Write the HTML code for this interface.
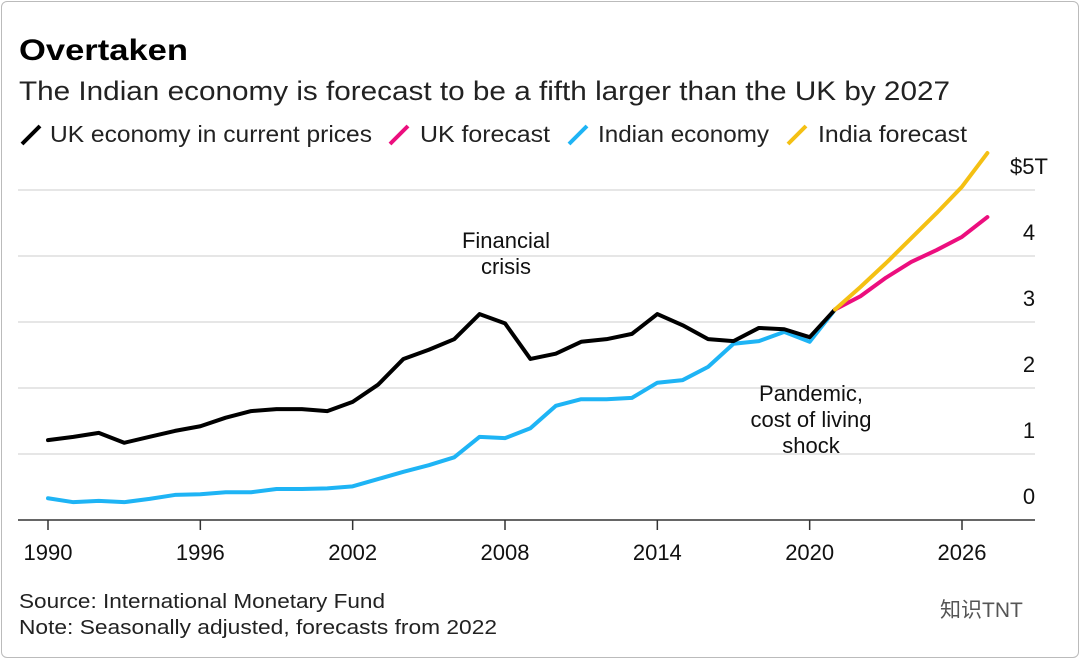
<!DOCTYPE html>
<html><head><meta charset="utf-8"><style>
html,body{margin:0;padding:0;background:#fff;}
body{width:1080px;height:659px;overflow:hidden;font-family:"Liberation Sans","Noto Sans CJK SC",sans-serif;}
#frame{position:absolute;left:1px;top:1px;width:1076px;height:655px;border:1px solid #bbb;border-radius:6px;}
</style></head><body>
<div id="frame"></div>
<svg id="chart" width="1080" height="659" style="position:absolute;left:0;top:0">
<text x="19" y="60" font-size="30" font-weight="bold" fill="#000" textLength="169" lengthAdjust="spacingAndGlyphs">Overtaken</text>
<text x="19" y="100" font-size="27" fill="#222" textLength="931" lengthAdjust="spacingAndGlyphs">The Indian economy is forecast to be a fifth larger than the UK by 2027</text>
<g font-size="23" fill="#222">
<line x1="22" y1="144" x2="40" y2="126" stroke="#000" stroke-width="4"/>
<text x="50" y="142" textLength="322" lengthAdjust="spacingAndGlyphs">UK economy in current prices</text>
<line x1="390" y1="144" x2="408" y2="126" stroke="#ec0e7e" stroke-width="4"/>
<text x="420" y="142" textLength="130" lengthAdjust="spacingAndGlyphs">UK forecast</text>
<line x1="569" y1="144" x2="587" y2="126" stroke="#1eb4f5" stroke-width="4"/>
<text x="598" y="142" textLength="171" lengthAdjust="spacingAndGlyphs">Indian economy</text>
<line x1="788" y1="144" x2="806" y2="126" stroke="#f4c013" stroke-width="4"/>
<text x="818" y="142" textLength="149" lengthAdjust="spacingAndGlyphs">India forecast</text>
</g>
<g id="grid"></g><g id="series"></g><g id="xaxis"></g>
<g font-size="22" fill="#111" text-anchor="middle">
<text x="506" y="248"><tspan x="506">Financial</tspan><tspan x="506" dy="26">crisis</tspan></text>
<text x="811" y="401"><tspan x="811">Pandemic,</tspan><tspan x="811" dy="26">cost of living</tspan><tspan x="811" dy="26">shock</tspan></text>
</g>
<text x="19" y="608" font-size="20" fill="#222" textLength="366" lengthAdjust="spacingAndGlyphs">Source: International Monetary Fund</text>
<text x="19" y="634" font-size="20" fill="#222" textLength="478" lengthAdjust="spacingAndGlyphs">Note: Seasonally adjusted, forecasts from 2022</text>
<text x="940" y="617" font-size="21" fill="#555">知识TNT</text>
</svg>
<script>
const years=[1990,1991,1992,1993,1994,1995,1996,1997,1998,1999,2000,2001,2002,2003,2004,2005,2006,2007,2008,2009,2010,2011,2012,2013,2014,2015,2016,2017,2018,2019,2020,2021];
const ukValues=[1.21,1.26,1.32,1.17,1.26,1.35,1.42,1.55,1.65,1.68,1.68,1.65,1.79,2.05,2.44,2.58,2.74,3.12,2.98,2.44,2.52,2.70,2.74,2.82,3.12,2.95,2.74,2.71,2.91,2.89,2.77,3.19];
const indiaValues=[0.33,0.27,0.29,0.27,0.32,0.38,0.39,0.42,0.42,0.47,0.47,0.48,0.51,0.62,0.73,0.83,0.95,1.26,1.24,1.39,1.73,1.83,1.83,1.85,2.08,2.12,2.32,2.67,2.71,2.85,2.70,3.19];
const forecastYears=[2021,2022,2023,2024,2025,2026,2027];
const ukForecast=[3.19,3.39,3.67,3.91,4.09,4.29,4.59];
const indiaForecast=[3.19,3.53,3.89,4.27,4.65,5.05,5.56];
const yTicks=[0,1,2,3,4,5];
const yTickLabels=["0","1","2","3","4","$5T"];
const xTicks=[1990,1996,2002,2008,2014,2020,2026];
const NS="http://www.w3.org/2000/svg";
const x=v=>48+(v-1990)*(914/36);
const y=v=>520-v*66;
function mk(tag,attrs,parent){const e=document.createElementNS(NS,tag);for(const k in attrs)e.setAttribute(k,attrs[k]);parent.appendChild(e);return e;}
const grid=document.getElementById('grid'),series=document.getElementById('series'),xa=document.getElementById('xaxis');
yTicks.forEach((t,i)=>{
 if(t>0){const l=mk('line',{x1:18,x2:1035,y1:y(t),y2:y(t),stroke:'#ddd','stroke-width':1.5},grid);
 
 }
 const tx=mk('text',{x:1029,y:y(t)-16,'font-size':22,fill:'#111','text-anchor':'middle'},grid);
 tx.textContent=yTickLabels[i];
 
 
});
const base=mk('line',{x1:18,x2:1035,y1:520,y2:520,stroke:'#333','stroke-width':1.5},xa);


xTicks.forEach(t=>{
 const tk=mk('line',{x1:x(t),x2:x(t),y1:520,y2:530,stroke:'#333','stroke-width':1.5},xa);
 
 
 const tx=mk('text',{x:x(t),y:560,'font-size':22,fill:'#111','text-anchor':'middle'},xa);
 tx.textContent=t;
 
 
});
function line(xs,vs,color,name){
 const p=mk('polyline',{points:xs.map((v,i)=>x(v)+','+y(vs[i])).join(' '),fill:'none',stroke:color,'stroke-width':4,'stroke-linejoin':'round','stroke-linecap':'round'},series);
 
 
}
line(years,indiaValues,'#1eb4f5','india-economy-line');
line(years,ukValues,'#000','uk-economy-line');
line(forecastYears,ukForecast,'#ec0e7e','uk-forecast-line');
line(forecastYears,indiaForecast,'#f4c013','india-forecast-line');
</script>
</body></html>
